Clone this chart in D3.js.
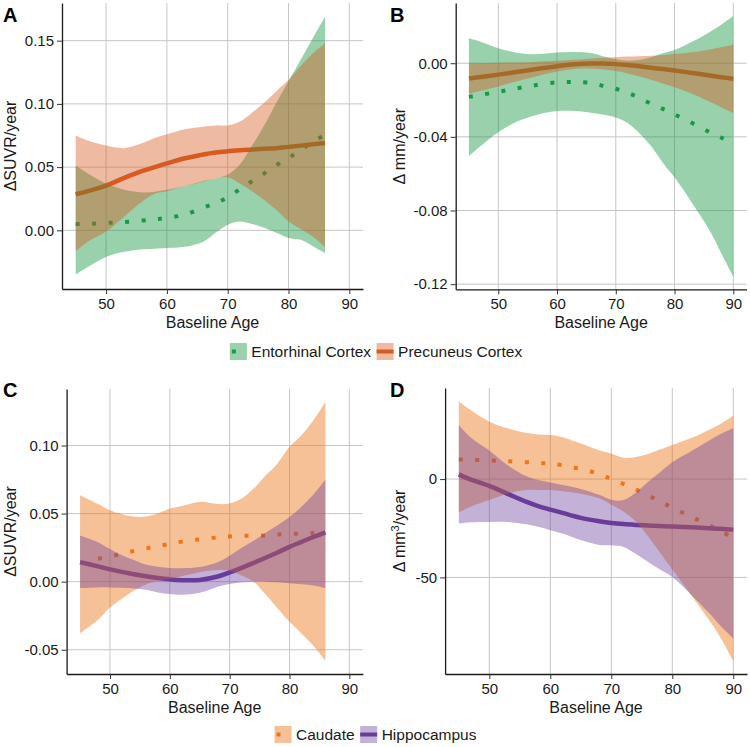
<!DOCTYPE html>
<html>
<head>
<meta charset="utf-8">
<script src="https://cdn.jsdelivr.net/npm/d3@7"></script>
<style>
  body { margin: 0; background: #ffffff; }
  svg { display: block; }
</style>
</head>
<body>
<svg id="chart" width="750" height="747"></svg>
<script>
// ---------------- DATA ----------------
// Panel A: SUVR change (Entorhinal vs Precuneus)
const ageA = [45, 47, 50, 53, 56, 58, 60, 63, 66, 68, 70, 72, 74, 76, 78, 80, 82, 84, 86];
const entSuvrFit = [0.005, 0.005, 0.0058, 0.0066, 0.0078, 0.0087, 0.0098, 0.0125, 0.018, 0.0215, 0.0262, 0.0325, 0.0388, 0.045, 0.0515, 0.0572, 0.0635, 0.070, 0.0755];
const entSuvrLo  = [-0.035, -0.029, -0.021, -0.017, -0.015, -0.0145, -0.014, -0.013, -0.009, -0.002, 0.0045, 0.007, 0.005, 0.002, -0.002, -0.006, -0.0075, -0.0125, -0.018];
const entSuvrHi  = [0.051, 0.045, 0.037, 0.032, 0.030, 0.0305, 0.032, 0.035, 0.039, 0.041, 0.044, 0.052, 0.067, 0.083, 0.101, 0.118, 0.135, 0.152, 0.169];
const precSuvrFit = [0.0285, 0.031, 0.0354, 0.0415, 0.047, 0.050, 0.053, 0.057, 0.060, 0.0615, 0.0625, 0.0633, 0.064, 0.0645, 0.065, 0.066, 0.067, 0.068, 0.069];
const precSuvrLo  = [-0.0165, -0.009, -0.001, 0.011, 0.023, 0.029, 0.031, 0.035, 0.0385, 0.041, 0.042, 0.037, 0.031, 0.024, 0.016, 0.007, 0.001, -0.005, -0.013];
const precSuvrHi  = [0.075, 0.071, 0.067, 0.065, 0.069, 0.073, 0.076, 0.080, 0.082, 0.083, 0.083, 0.086, 0.093, 0.101, 0.110, 0.119, 0.130, 0.140, 0.148];

// Panel B: thickness change (mm/year)
const ageB = [45, 47, 50, 53, 56, 60, 63, 66, 68, 70, 72, 74, 76, 78, 80, 83, 86, 88, 90];
const entThkFit = [-0.0183, -0.0172, -0.0155, -0.0138, -0.0121, -0.0104, -0.0102, -0.0108, -0.0125, -0.0139, -0.016, -0.0188, -0.022, -0.0248, -0.0278, -0.0325, -0.0375, -0.0405, -0.0435];
const entThkLo  = [-0.0505, -0.045, -0.0375, -0.032, -0.0285, -0.026, -0.026, -0.027, -0.028, -0.0295, -0.0325, -0.038, -0.045, -0.054, -0.062, -0.076, -0.091, -0.1035, -0.116];
const entThkHi  = [0.0135, 0.0117, 0.0081, 0.0058, 0.0048, 0.0058, 0.0061, 0.0054, 0.0036, 0.0022, 0.0014, 0.0018, 0.0032, 0.0054, 0.0072, 0.0117, 0.017, 0.021, 0.0256];
const precThkFit = [-0.0083, -0.0075, -0.0062, -0.0048, -0.0034, -0.0016, -0.0006, -0.0002, -0.0002, -0.0005, -0.001, -0.0017, -0.0025, -0.0032, -0.004, -0.0053, -0.0067, -0.0076, -0.0085];
const precThkLo  = [-0.0166, -0.015, -0.0126, -0.010, -0.0075, -0.0045, -0.0031, -0.003, -0.0034, -0.0043, -0.0056, -0.0072, -0.009, -0.011, -0.013, -0.0166, -0.021, -0.024, -0.027];
const precThkHi  = [0.0, 0.0, 0.0002, 0.0004, 0.0007, 0.0013, 0.0019, 0.0026, 0.0030, 0.0033, 0.0036, 0.0038, 0.0041, 0.0045, 0.005, 0.006, 0.0075, 0.0087, 0.0100];

// Panel C: SUVR change (Caudate vs Hippocampus)
const ageC = [45, 48, 50, 52, 54, 56, 58, 60, 62, 65, 68, 70, 72, 74, 76, 78, 80, 82, 84, 86];
const caudSuvrFit = [null, 0.0169, 0.0186, 0.0205, 0.0226, 0.0244, 0.0261, 0.0278, 0.0294, 0.0311, 0.0325, 0.0332, 0.0336, 0.0339, 0.034, 0.0346, 0.035, 0.0354, 0.0357, 0.036];
const caudSuvrLo  = [-0.038, -0.028, -0.019, -0.0125, -0.0065, -0.002, 0.0005, 0.002, 0.004, 0.007, 0.0085, 0.008, 0.0045, 0.0, -0.0095, -0.0195, -0.0295, -0.038, -0.047, -0.058];
const caudSuvrHi  = [0.0635, 0.057, 0.0525, 0.0495, 0.0478, 0.0478, 0.050, 0.0537, 0.0556, 0.0586, 0.057, 0.0574, 0.061, 0.0684, 0.078, 0.0868, 0.099, 0.1076, 0.1186, 0.132];
const hippSuvrFit = [0.0144, 0.0112, 0.009, 0.0072, 0.0055, 0.004, 0.0027, 0.0017, 0.0011, 0.0013, 0.0038, 0.0068, 0.0102, 0.0138, 0.0176, 0.0214, 0.0256, 0.0292, 0.0328, 0.0362];
const hippSuvrLo  = [-0.0047, -0.0042, -0.0042, -0.0045, -0.005, -0.006, -0.0079, -0.0091, -0.0096, -0.0082, -0.0037, -0.0017, -0.0005, 0.0, 0.0, -0.0004, -0.0012, -0.0018, -0.0028, -0.0047];
const hippSuvrHi  = [0.034, 0.029, 0.024, 0.0195, 0.016, 0.0126, 0.011, 0.010, 0.0099, 0.0108, 0.0143, 0.019, 0.0249, 0.030, 0.036, 0.0414, 0.0475, 0.055, 0.064, 0.075];

// Panel D: volume change (mm^3/year)
const ageD = [45, 47, 50, 53, 56, 58, 60, 62, 65, 68, 70, 72, 74, 76, 78, 80, 83, 86, 88, 90];
const caudVolFit = [10, 9.8, 9.5, 9.1, 8.6, 8.2, 7.8, 7.0, 5.1, 2.6, 0.0, -2.5, -5.2, -8.2, -11.4, -14.5, -19.0, -23.4, -26.5, -30.0];
const caudVolLo  = [-17, -14, -10.7, -7.3, -5.5, -5.5, -5.6, -6.2, -7.5, -9.8, -13, -16.5, -21.6, -29, -37.5, -46, -58.5, -71.5, -81, -92.5];
const caudVolHi  = [39.5, 35, 29.2, 25.8, 23.5, 22.7, 22.4, 21.3, 18.1, 14.7, 13, 10.8, 11.2, 12.8, 15.0, 17.3, 20.7, 25, 28.3, 32.2];
const hippVolFit = [2.4, -0.3, -3.5, -7.5, -11.5, -13.7, -15.5, -17.2, -19.7, -21.4, -22.3, -22.9, -23.3, -23.6, -23.9, -24.1, -24.5, -25.0, -25.3, -25.7];
const hippVolLo  = [-22.6, -22, -21.8, -21.8, -23, -24.3, -26, -27.7, -31, -33.5, -33.7, -34.5, -38, -42, -46, -49.8, -58.5, -68, -75, -81];
const hippVolHi  = [27.5, 21, 14.5, 7, 1.5, -0.5, -1.8, -3, -5, -8, -10.5, -10.7, -7, -1.5, 3.5, 8.5, 14, 19.5, 23, 26];

// Ticks and labels
const xTicks = [50, 60, 70, 80, 90];
const yTicksA = [0, 0.05, 0.10, 0.15];
const yTicksB = [0, -0.04, -0.08, -0.12];
const yTicksC = [-0.05, 0, 0.05, 0.10];
const yTicksD = [-50, 0];
const xTitle = "Baseline Age";
const legend1Labels = ["Entorhinal Cortex", "Precuneus Cortex"];
const legend2Labels = ["Caudate", "Hippocampus"];

// ---------------- STYLE / LAYOUT ----------------
const FONT = "'Liberation Sans', Arial, Helvetica, sans-serif";
const COL = {
  ent:  "#1a9846",
  prec: "#d75a1e",
  caud: "#ee7518",
  hipp: "#6a3d9a"
};
const ALPHA = { ent: 0.45, prec: 0.42, caud: 0.45, hipp: 0.40 };
const XDOM = [42.75, 92.25];

const svg = d3.select("#chart");

const fmt2 = v => (v < 0 ? "-" : "") + Math.abs(v).toFixed(2);
const fmt0 = v => (v < 0 ? "-" : "") + Math.abs(v).toFixed(0);

const panels = [
  { letter: "A", letterPos: [3, 22], ages: ageA, xr: [62, 363], yr: [289, 3], yd: [-0.0464, 0.1798],
    yTicks: yTicksA, fmt: fmt2, yTitle: [["ΔSUVR/year", false]], yTitleX: 16,
    xTitleY: 328,
    series: [
      { key: "ent", fit: entSuvrFit, lo: entSuvrLo, hi: entSuvrHi, dotted: true },
      { key: "prec", fit: precSuvrFit, lo: precSuvrLo, hi: precSuvrHi, dotted: false }
    ] },
  { letter: "B", letterPos: [390, 22], ages: ageB, xr: [455.7, 746.5], yr: [289.3, 3], yd: [-0.1228, 0.0327],
    yTicks: yTicksB, fmt: fmt2, yTitle: [["Δ mm/year", false]], yTitleX: 405,
    xTitleY: 328,
    series: [
      { key: "ent", fit: entThkFit, lo: entThkLo, hi: entThkHi, dotted: true },
      { key: "prec", fit: precThkFit, lo: precThkLo, hi: precThkHi, dotted: false }
    ] },
  { letter: "C", letterPos: [3, 397], ages: ageC, xr: [66.6, 362.8], yr: [674, 389], yd: [-0.0678, 0.1415],
    yTicks: yTicksC, fmt: fmt2, yTitle: [["ΔSUVR/year", false]], yTitleX: 16,
    xTitleY: 713,
    series: [
      { key: "caud", fit: caudSuvrFit, lo: caudSuvrLo, hi: caudSuvrHi, dotted: true },
      { key: "hipp", fit: hippSuvrFit, lo: hippSuvrLo, hi: hippSuvrHi, dotted: false }
    ] },
  { letter: "D", letterPos: [390, 397], ages: ageD, xr: [445.1, 747], yr: [674, 388], yd: [-99.1, 46.3],
    yTicks: yTicksD, fmt: fmt0, yTitle: [["Δ mm", false], ["3", true], ["/year", false]], yTitleX: 405,
    xTitleY: 713,
    series: [
      { key: "caud", fit: caudVolFit, lo: caudVolLo, hi: caudVolHi, dotted: true },
      { key: "hipp", fit: hippVolFit, lo: hippVolLo, hi: hippVolHi, dotted: false }
    ] }
];

panels.forEach(p => {
  const g = svg.append("g");
  const x = d3.scaleLinear().domain(XDOM).range(p.xr);
  const y = d3.scaleLinear().domain(p.yd).range(p.yr);

  // grid
  const grid = g.append("g").attr("stroke", "#c6c6c6").attr("stroke-width", 1);
  grid.selectAll("line.v").data(xTicks).join("line")
    .attr("x1", d => x(d)).attr("x2", d => x(d))
    .attr("y1", p.yr[1]).attr("y2", p.yr[0]);
  grid.selectAll("line.h").data(p.yTicks).join("line")
    .attr("x1", p.xr[0]).attr("x2", p.xr[1])
    .attr("y1", d => y(d)).attr("y2", d => y(d));

  // lines first (ribbons are painted over them)
  p.series.forEach(s => {
    const pts = p.ages.map((a, i) => ({ a, v: s.fit[i] }));
    const line = d3.line()
      .defined(d => d.v !== null)
      .x(d => x(d.a)).y(d => y(d.v))
      .curve(d3.curveCatmullRom.alpha(0.5));
    g.append("path").datum(pts)
      .attr("d", line)
      .attr("fill", "none")
      .attr("stroke", COL[s.key])
      .attr("stroke-width", s.dotted ? 4 : 4.5)
      .attr("stroke-linecap", "butt")
      .attr("stroke-dasharray", s.dotted ? "4,12.5" : null);
  });

  // ribbons
  p.series.forEach(s => {
    const pts = p.ages.map((a, i) => ({ a, lo: s.lo[i], hi: s.hi[i] }));
    const area = d3.area()
      .x(d => x(d.a)).y0(d => y(d.lo)).y1(d => y(d.hi))
      .curve(d3.curveCatmullRom.alpha(0.5));
    g.append("path").datum(pts)
      .attr("d", area)
      .attr("fill", COL[s.key])
      .attr("fill-opacity", ALPHA[s.key])
      .attr("stroke", "none");
  });

  // axes
  const xAxis = d3.axisBottom(x).tickValues(xTicks).tickSize(5).tickSizeOuter(0).tickPadding(4)
    .tickFormat(d3.format("d"));
  const gx = g.append("g").attr("transform", `translate(0,${p.yr[0]})`).call(xAxis);
  const yAxis = d3.axisLeft(y).tickValues(p.yTicks).tickSize(5).tickSizeOuter(0).tickPadding(3)
    .tickFormat(p.fmt);
  const gy = g.append("g").attr("transform", `translate(${p.xr[0]},0)`).call(yAxis);
  [gx, gy].forEach(ax => {
    ax.select(".domain").attr("stroke", "#1a1a1a").attr("stroke-width", 1.3);
    ax.selectAll(".tick line").attr("stroke", "#333").attr("stroke-width", 1);
    ax.selectAll(".tick text").attr("fill", "#1a1a1a")
      .style("font-family", FONT).style("font-size", "15px");
  });

  // x title
  g.append("text")
    .attr("x", (p.xr[0] + p.xr[1]) / 2).attr("y", p.xTitleY)
    .attr("text-anchor", "middle")
    .style("font-family", FONT).style("font-size", "16px").attr("fill", "#1a1a1a")
    .text(xTitle);

  // y title
  const yt = g.append("text")
    .attr("transform", `translate(${p.yTitleX},${(p.yr[0] + p.yr[1]) / 2}) rotate(-90)`)
    .attr("text-anchor", "middle")
    .style("font-family", FONT).style("font-size", "16px").attr("fill", "#1a1a1a");
  p.yTitle.forEach(([t, sup]) => {
    const ts = yt.append("tspan").text(t);
    if (sup) ts.attr("baseline-shift", "super").style("font-size", "11px");
  });

  // panel letter
  g.append("text")
    .attr("x", p.letterPos[0]).attr("y", p.letterPos[1])
    .style("font-family", FONT).style("font-size", "20px").style("font-weight", "bold")
    .attr("fill", "#000").text(p.letter);
});

// legends
function legend(labels, keys, dottedFlags, cy, cx) {
  const g = svg.append("g");
  const keyW = 17, gap1 = 4.5, gap2 = 5.5;
  // measure
  const tmp = g.append("text").style("font-family", FONT).style("font-size", "15.5px");
  const widths = labels.map(l => { tmp.text(l); return tmp.node().getComputedTextLength(); });
  tmp.remove();
  const total = keyW * 2 + gap1 * 2 + gap2 + widths[0] + widths[1];
  let xx = cx - total / 2;
  labels.forEach((l, i) => {
    const k = keys[i];
    const dotted = dottedFlags[i];
    g.append("line")
      .attr("x1", dotted ? xx + 2 : xx).attr("x2", xx + keyW)
      .attr("y1", cy).attr("y2", cy)
      .attr("stroke", COL[k]).attr("stroke-width", 4)
      .attr("stroke-dasharray", dotted ? "4,12.5" : null);
    g.append("rect")
      .attr("x", xx).attr("y", cy - keyW / 2).attr("width", keyW).attr("height", keyW)
      .attr("fill", COL[k]).attr("fill-opacity", ALPHA[k]);
    g.append("text")
      .attr("x", xx + keyW + gap1).attr("y", cy + 5.5)
      .style("font-family", FONT).style("font-size", "15.5px").attr("fill", "#1a1a1a")
      .text(l);
    xx += keyW + gap1 + widths[i] + gap2;
  });
}
legend(legend1Labels, ["ent", "prec"], [true, false], 351.5, 376);
legend(legend2Labels, ["caud", "hipp"], [true, false], 734.5, 375.5);
</script>
</body>
</html>
